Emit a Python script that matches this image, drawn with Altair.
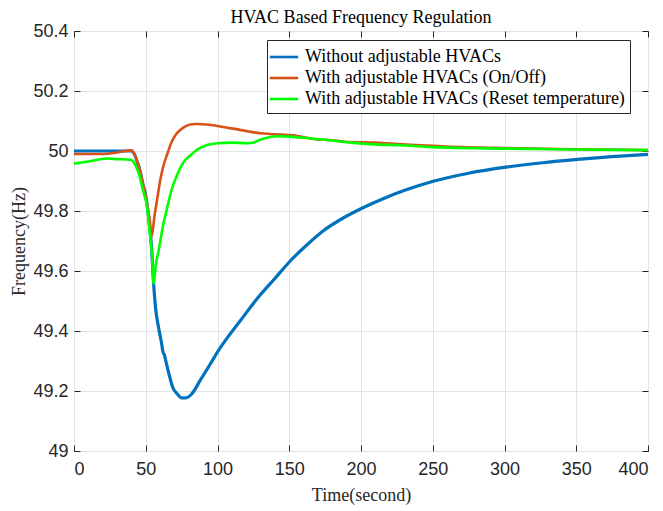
import altair as alt
import pandas as pd

# ---- data ----
series_names = [
    "Without adjustable HVACs",
    "With adjustable HVACs (On/Off)",
    "With adjustable HVACs (Reset temperature)",
]
series_colors = ["#0072BD", "#D95319", "#00FF00"]
series_widths = [3.2, 2.6, 2.6]

blue_t = [0, 20, 40, 42, 44, 46, 48, 50, 52, 54, 55.5, 57, 59, 61, 62, 63, 64, 66, 69, 72,
          75, 78, 82, 88, 95, 100, 108, 116, 128, 140, 151, 163, 174, 187, 201, 215, 230,
          251, 275, 301, 325, 351, 375, 400]
blue_f = [50.0, 50.0, 50.0, 49.99, 49.965, 49.934, 49.89, 49.85, 49.78, 49.68, 49.557, 49.47,
          49.41, 49.36, 49.33, 49.32, 49.30, 49.26, 49.21, 49.19,
          49.177, 49.177, 49.19, 49.236, 49.29, 49.33, 49.385, 49.435, 49.51, 49.575, 49.635,
          49.69, 49.735, 49.775, 49.81, 49.84, 49.868,
          49.9, 49.926, 49.946, 49.96, 49.972, 49.981, 49.989]

orange_t = [0, 10, 20, 30, 40, 42, 44, 46, 48, 51, 53, 54, 55, 56, 58, 60, 62, 65, 68, 71,
            74, 78, 82, 86, 90, 97, 105, 114, 122, 130, 140, 153, 160, 167, 180, 191, 210,
            228, 260, 300, 350, 400]
orange_f = [49.99, 49.99, 49.99, 49.995, 50.002, 49.99, 49.965, 49.934, 49.89, 49.823, 49.76,
            49.715, 49.74, 49.78, 49.84, 49.9, 49.945, 49.99, 50.03, 50.055,
            50.07, 50.083, 50.089, 50.09, 50.089, 50.086, 50.079, 50.072, 50.065, 50.059,
            50.056, 50.052, 50.046, 50.04, 50.036, 50.03, 50.028,
            50.022, 50.015, 50.01, 50.006, 50.003]

green_t = [0, 10, 23, 30, 40, 42, 44, 46, 48, 51, 53, 54.3, 55.5, 57, 59, 62, 65, 68, 72, 76,
           81, 86, 92.8, 100, 110, 121, 125, 130, 136, 142, 150, 167, 180, 193, 210, 228,
           250, 300, 350, 400]
green_f = [49.958, 49.965, 49.975, 49.973, 49.97, 49.96, 49.94, 49.911, 49.87, 49.812, 49.72,
           49.657, 49.557, 49.62, 49.668, 49.75, 49.812, 49.87, 49.922, 49.96,
           49.985, 50.005, 50.02, 50.026, 50.028, 50.026, 50.028, 50.038, 50.046, 50.049,
           50.048, 50.041, 50.035, 50.028, 50.022, 50.019,
           50.013, 50.008, 50.005, 50.003]

x_ticks = [0, 50, 100, 150, 200, 250, 300, 350, 400]
y_ticks = [49, 49.2, 49.4, 49.6, 49.8, 50, 50.2, 50.4]

# ---- build table ----
rows = []
for name, w, ts, fs in zip(series_names, series_widths,
                           [blue_t, orange_t, green_t], [blue_f, orange_f, green_f]):
    for i, (t, f) in enumerate(zip(ts, fs)):
        rows.append({"series": name, "t": t, "f": f, "w": w, "i": i})
df = pd.DataFrame(rows)

W, H = 574, 420
TICK_COLOR = "#262626"
sans = "Liberation Sans"
serif = "Liberation Serif"

xscale = alt.Scale(domain=[0, 400], nice=False, zero=False)
yscale = alt.Scale(domain=[49, 50.4], nice=False, zero=False)

lines = alt.Chart(df).mark_line(interpolate="monotone").encode(
    x=alt.X("t:Q", scale=xscale,
            axis=alt.Axis(values=x_ticks, title="Time(second)", titleFont=serif,
                          titleFontSize=18, titleFontWeight="normal", titleColor="#262626",
                          titlePadding=8, labelFont=sans, labelFontSize=18,
                          labelColor="#262626", labelPadding=9, tickSize=0, domain=False,
                          grid=True, gridColor="#E3E3E3", gridWidth=1)),
    y=alt.Y("f:Q", scale=yscale,
            axis=alt.Axis(values=y_ticks, format=".1~f", title="Frequency(Hz)",
                          titleFont=serif, titleFontSize=18, titleFontWeight="normal",
                          titleColor="#262626", titlePadding=4, labelFont=sans,
                          labelFontSize=18, labelColor="#262626", labelPadding=6,
                          tickSize=0, domain=False, grid=True, gridColor="#E3E3E3",
                          gridWidth=1)),
    color=alt.Color("series:N",
                    scale=alt.Scale(domain=series_names, range=series_colors),
                    sort=series_names,
                    legend=alt.Legend(title=None, orient="none", legendX=193, legendY=9,
                                      symbolType="M-1.35,0H1.35", symbolSize=441,
                                      symbolStrokeWidth=2.6, labelFont=serif,
                                      labelFontSize=18, labelColor="#000000",
                                      rowPadding=0, padding=5, labelOffset=9,
                                      fillColor="white", strokeColor="#262626",
                                      labelLimit=400)),
    strokeWidth=alt.StrokeWidth("w:Q", scale=None, legend=None),
    order="i:Q",
)

ghost = alt.Chart(df).mark_point(opacity=0)

ticks_a = ghost.encode(
    x=alt.X("t:Q", scale=xscale,
            axis=alt.Axis(values=x_ticks, orient="top", offset=-H, labels=False,
                          domain=False, grid=False, title=None, tickSize=6,
                          tickColor=TICK_COLOR)),
    y=alt.Y("f:Q", scale=yscale,
            axis=alt.Axis(values=y_ticks, orient="right", offset=-W, labels=False,
                          domain=False, grid=False, title=None, tickSize=6,
                          tickColor=TICK_COLOR)),
)
ticks_b = ghost.encode(
    x=alt.X("t:Q", scale=xscale,
            axis=alt.Axis(values=x_ticks, orient="bottom", offset=-H, labels=False,
                          domain=False, grid=False, title=None, tickSize=6,
                          tickColor=TICK_COLOR)),
    y=alt.Y("f:Q", scale=yscale,
            axis=alt.Axis(values=y_ticks, orient="left", offset=-W, labels=False,
                          domain=False, grid=False, title=None, tickSize=6,
                          tickColor=TICK_COLOR)),
)

chart = alt.layer(lines, ticks_a, ticks_b).resolve_axis(
    x="independent", y="independent"
).properties(
    width=W, height=H,
    title=alt.TitleParams("HVAC Based Frequency Regulation", font=serif, fontSize=18,
                          fontWeight="normal", color="#000000", anchor="middle",
                          offset=-5),
    autosize=alt.AutoSizeParams(type="none"),
    padding={"left": 66, "top": 23, "right": 5, "bottom": 56},
).configure_view(stroke="#262626", strokeWidth=1)

chart.save("out.html", embed_options={"renderer": "svg", "actions": False})
